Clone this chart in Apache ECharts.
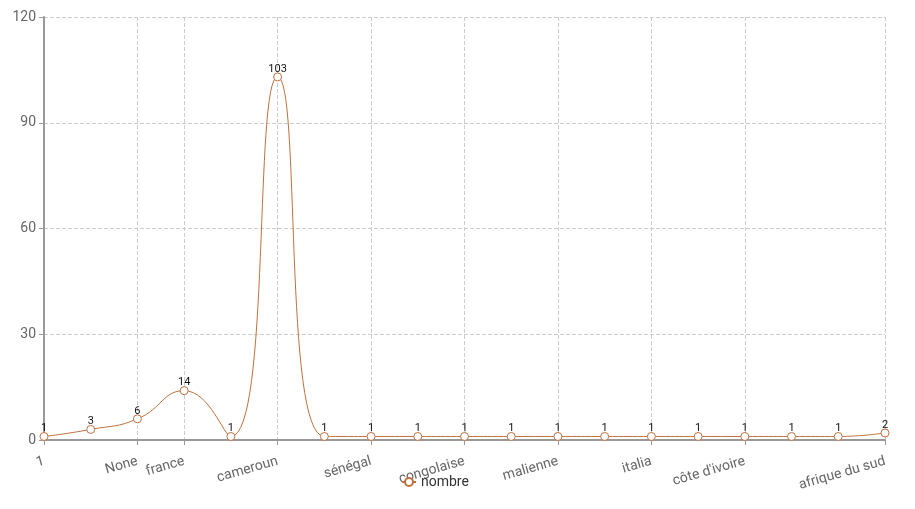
<!DOCTYPE html>
<html><head><meta charset="utf-8">
<script src="https://cdn.jsdelivr.net/npm/echarts@6/dist/echarts.min.js"></script>
<style>html,body{margin:0;padding:0;background:#fff}#c{width:915px;height:509px}</style>
</head><body><div id="c"></div>
<script>
const categories = ["1","camerounaise","None","france","gabon","cameroun","tchad","sénégal","bénin","congolaise","togo","malienne","guinée","italia","nigeria","côte d'ivoire","burkina faso","maroc","afrique du sud"];
const values = [1,3,6,14,1,103,1,1,1,1,1,1,1,1,1,1,1,1,2];
const shownIdx = [0,2,3,5,7,9,11,13,15,18];
const yTicks = {min:0, max:120, interval:30};
const show = (i) => shownIdx.indexOf(i) >= 0;
const chart = echarts.init(document.getElementById('c'));
chart.setOption({
  animation:false,
  grid:{left:44,right:30,top:17,bottom:69,containLabel:false},
  legend:{bottom:15,left:396,itemWidth:14,itemHeight:10,textStyle:{fontFamily:'Roboto',fontSize:14,color:'#333'},data:['nombre']},
  xAxis:{type:'category',boundaryGap:false,data:categories,
    axisLine:{lineStyle:{color:'#999',width:2}},
    axisTick:{interval:(i)=>show(i),lineStyle:{color:'#999'}},
    axisLabel:{interval:(i)=>show(i),rotate:16,fontFamily:'Roboto',fontSize:14,color:'#666',margin:21},
    splitLine:{show:true,interval:(i)=>show(i),lineStyle:{type:'dashed',color:'#ccc'}}},
  yAxis:{type:'value',min:yTicks.min,max:yTicks.max,interval:yTicks.interval,
    axisLine:{show:true,lineStyle:{color:'#999',width:2}},
    axisTick:{show:true,lineStyle:{color:'#999'}},
    axisLabel:{fontFamily:'Roboto',fontSize:14,color:'#666'},
    splitLine:{lineStyle:{type:'dashed',color:'#ccc'}}},
  series:[{name:'nombre',type:'line',smooth:true,data:values,
    symbol:'circle',symbolSize:8,
    itemStyle:{color:'#fff',borderColor:'#c0703f',borderWidth:1},lineStyle:{color:'#c0703f',width:1},
    label:{show:true,position:'top',distance:-2,fontFamily:'Roboto',fontSize:11,color:'#111'}}]
});
</script></body></html>
